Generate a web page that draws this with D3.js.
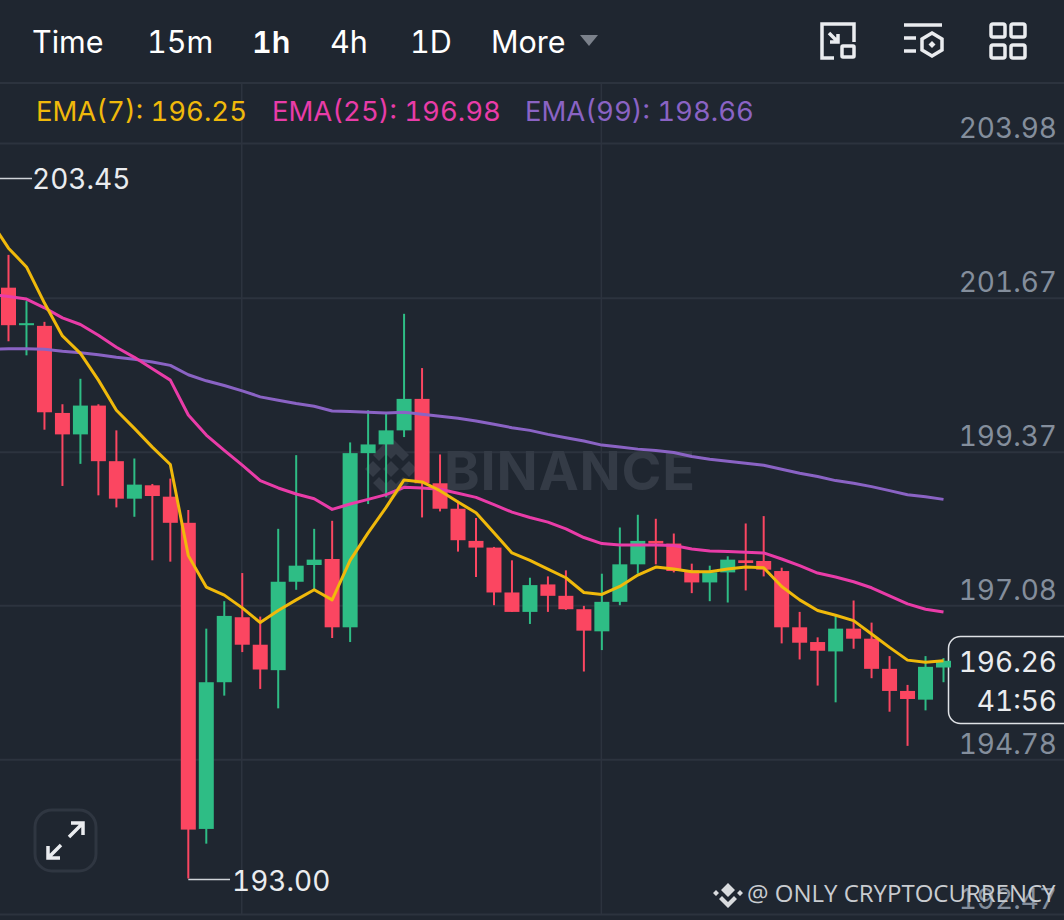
<!DOCTYPE html>
<html>
<head>
  <meta charset="utf-8">
  <script src="https://d3js.org/d3.v7.min.js"></script>
  <style>
    html, body { margin: 0; padding: 0; background: #1f2630; overflow: hidden; }
    text { font-family: Inter, "Noto Sans", sans-serif; font-variant-numeric: tabular-nums; font-feature-settings: "tnum" 1; }
  </style>
</head>
<body>
  <svg id="canvas" width="1064" height="920"></svg>
  <script>
    // candles, oldest first
    const opens = [201.82,201.26,201.25,199.95,199.63,200.06,199.23,198.67,198.87,198.70,198.31,193.74,195.93,196.90,196.49,196.11,197.43,197.68,197.77,196.75,199.35,199.48,199.69,200.16,198.90,198.52,198.04,197.94,197.27,196.98,197.39,197.22,197.02,196.69,197.13,197.69,198.04,198.00,197.60,197.42,197.57,197.75,197.74,197.59,196.75,196.53,196.39,196.73,196.58,196.13,195.80,195.67,196.15];
    const highs = [202.31,201.62,201.31,200.08,200.46,200.08,199.69,199.27,198.89,198.97,198.50,196.73,197.14,197.56,196.91,198.22,199.32,198.22,198.34,199.51,199.99,199.94,201.43,200.62,199.33,198.64,198.38,197.95,197.75,197.49,197.51,197.60,197.07,197.55,198.24,198.43,198.37,198.15,197.70,197.67,197.81,198.30,198.41,197.64,196.98,196.60,196.92,197.15,196.82,196.32,195.89,196.32,196.29];
    const lows = [201.02,200.81,199.70,198.86,199.19,198.72,198.54,198.40,197.75,197.73,193.00,193.52,195.73,196.38,195.83,195.54,197.31,197.31,196.59,196.53,198.59,198.69,199.59,198.39,198.48,197.88,197.50,197.08,196.98,196.80,196.98,197.01,196.09,196.41,197.08,197.55,197.69,197.57,197.26,197.14,197.12,197.30,197.51,196.51,196.27,195.88,195.63,196.43,195.99,195.49,194.98,195.51,195.93];
    const closes = [201.26,201.29,199.96,199.63,200.06,199.23,198.67,198.88,198.71,198.31,193.73,195.93,196.92,196.49,196.12,197.43,197.67,197.76,196.75,199.35,199.48,199.69,200.16,198.90,198.52,198.05,197.94,197.27,196.98,197.38,197.22,197.02,196.70,197.13,197.69,198.04,198.00,197.59,197.42,197.57,197.76,197.71,197.61,196.75,196.52,196.40,196.73,196.58,196.13,195.80,195.68,196.16,196.25];

    // moving averages, the first point of each sits one step off the left edge
    const ema7 = [202.82,202.41,202.13,201.59,201.10,200.84,200.44,199.99,199.72,199.44,199.18,197.82,197.35,197.23,197.04,196.82,197.00,197.16,197.31,197.16,197.75,198.16,198.54,198.95,198.92,198.79,198.62,198.46,198.16,197.86,197.75,197.62,197.49,197.27,197.24,197.36,197.53,197.65,197.62,197.58,197.58,197.62,197.65,197.64,197.36,197.16,197.00,196.93,196.85,196.65,196.45,196.26,196.23,196.25];
    const ema25 = [201.72,201.69,201.65,201.52,201.37,201.27,201.11,200.93,200.78,200.61,200.44,199.92,199.62,199.39,199.17,198.94,198.83,198.74,198.67,198.51,198.59,198.66,198.73,198.84,198.83,198.81,198.75,198.69,198.58,198.47,198.39,198.32,198.22,198.09,198.00,197.98,197.98,197.98,197.97,197.92,197.89,197.88,197.87,197.86,197.77,197.67,197.56,197.50,197.43,197.34,197.22,197.10,197.02,196.98];
    const ema99 = [200.90,200.91,200.91,200.90,200.87,200.85,200.82,200.78,200.75,200.71,200.66,200.52,200.43,200.36,200.28,200.19,200.14,200.09,200.05,199.98,199.97,199.96,199.95,199.96,199.93,199.90,199.87,199.83,199.78,199.73,199.69,199.63,199.58,199.53,199.47,199.44,199.41,199.39,199.36,199.30,199.26,199.23,199.20,199.17,199.11,199.05,199.00,198.94,198.90,198.85,198.79,198.73,198.70,198.66];

    const priceTicks = [203.98, 201.67, 199.37, 197.08, 194.78, 192.47];
    const timeGridIndex = [13, 33];
    const menuItems = ["Time", "15m", "1h", "4h", "1D", "More"];
    const menuLeft = [32, 147, 252, 330, 410, 491];
    const legend = [
      { label: "EMA(7): 196.25", color: "#f0b90b", left: 36 },
      { label: "EMA(25): 196.98", color: "#e93ca8", left: 272 },
      { label: "EMA(99): 198.66", color: "#8a63c4", left: 525 }
    ];
    const highMark = 203.45;
    const lowMark = 193.00;
    const lastPrice = "196.26";
    const countdown = "41:56";

    const bg = "#1f2630";
    const gridColor = "#2c333e";
    const up = "#2ebd85";
    const down = "#fb4661";
    const axisGray = "#848e9c";

    const svg = d3.select("#canvas");
    const width = +svg.attr("width");

    const x = d3.scaleLinear().domain([0, opens.length - 1]).range([8.5, 943.5]);
    const y = d3.scaleLinear().domain([203.98, 192.47]).range([143, 914]);

    svg.append("rect").attr("width", width).attr("height", 920).attr("fill", bg);

    // header divider
    svg.append("line").attr("x1", 0).attr("x2", width).attr("y1", 83).attr("y2", 83)
      .attr("stroke", gridColor).attr("stroke-width", 2);

    // grid
    const axis = d3.axisRight(y).tickValues(priceTicks).tickSize(-width).tickFormat(d3.format(".2f"));
    const axisG = svg.append("g").attr("transform", `translate(${width},0)`).call(axis);
    axisG.select(".domain").remove();
    axisG.selectAll(".tick line").attr("stroke", gridColor).attr("stroke-width", 2);
    axisG.selectAll(".tick text")
      .attr("x", -7).attr("dy", -6).attr("text-anchor", "end")
      .attr("fill", axisGray).attr("font-size", 28)
      .style("font-family", "Inter, 'Noto Sans', sans-serif");

    svg.selectAll(".vgrid").data(timeGridIndex).enter().append("line")
      .attr("x1", d => x(d) - 0.5).attr("x2", d => x(d) - 0.5)
      .attr("y1", 84).attr("y2", 914)
      .attr("stroke", gridColor).attr("stroke-width", 1.5);

    // watermark
    const wm = svg.append("g").attr("fill", "#343b46");
    [[391, 451], [373, 469], [391, 469], [409, 469], [391, 487]].forEach(c => {
      wm.append("path").attr("d", `M${c[0]},${c[1] - 8}l8,8l-8,8l-8,-8Z`);
    });
    wm.append("path").attr("d", "M391,437l18,18l-6,6l-12,-12l-12,12l-6,-6Z");
    wm.append("path").attr("d", "M391,501l18,-18l-6,-6l-12,12l-12,-12l-6,6Z");
    wm.append("text").attr("x", 444).attr("y", 490).text("BINANCE")
      .attr("font-size", 54).attr("font-weight", 700).attr("textLength", 251);

    // price box goes under the candles, the last one pokes into it
    svg.append("rect").attr("x", 948.5).attr("y", 636.5).attr("width", 130).attr("height", 87).attr("rx", 12)
      .attr("fill", bg).attr("stroke", "#dfe2e6").attr("stroke-width", 1.5);

    // candles
    const candles = d3.range(opens.length).map(i => ({ i, o: opens[i], h: highs[i], l: lows[i], c: closes[i] }));
    const isUp = d => d.c >= d.o;

    svg.append("g").selectAll("line").data(candles).enter().append("line")
      .attr("x1", d => x(d.i)).attr("x2", d => x(d.i))
      .attr("y1", d => y(d.h)).attr("y2", d => y(d.l))
      .attr("stroke", d => isUp(d) ? up : down).attr("stroke-width", 2);

    svg.append("g").selectAll("rect").data(candles).enter().append("rect")
      .attr("x", d => x(d.i) - 7.5).attr("width", 15)
      .attr("y", d => y(Math.max(d.o, d.c)))
      .attr("height", d => Math.max(2, Math.abs(y(d.o) - y(d.c))))
      .attr("fill", d => isUp(d) ? up : down);

    // ema lines
    const line = d3.line().x((d, i) => x(i - 1)).y(d => y(d));
    [[ema99, "#8a63c4"], [ema25, "#e93ca8"], [ema7, "#f0b90b"]].forEach(s => {
      svg.append("path").attr("d", line(s[0])).attr("fill", "none")
        .attr("stroke", s[1]).attr("stroke-width", 3).attr("stroke-linejoin", "round");
    });

    // high and low markers
    svg.append("line").attr("x1", 0).attr("x2", 32).attr("y1", y(highMark)).attr("y2", y(highMark))
      .attr("stroke", "#cfd3d8").attr("stroke-width", 1.5);
    svg.append("text").attr("x", 32).attr("y", y(highMark) + 10.5).text(highMark.toFixed(2))
      .attr("fill", "#eaecef").attr("font-size", 28);
    svg.append("line").attr("x1", x(10)).attr("x2", 230).attr("y1", y(lowMark) + 1).attr("y2", y(lowMark) + 1)
      .attr("stroke", "#cfd3d8").attr("stroke-width", 1.5);
    svg.append("text").attr("x", 232).attr("y", y(lowMark) + 13).text(lowMark.toFixed(2))
      .attr("fill", "#eaecef").attr("font-size", 28);

    // last price
    svg.append("text").attr("x", 1057).attr("y", 672).attr("text-anchor", "end").text(lastPrice)
      .attr("fill", "#eaecef").attr("font-size", 28);
    svg.append("text").attr("x", 1057).attr("y", 711).attr("text-anchor", "end").text(countdown)
      .attr("fill", "#eaecef").attr("font-size", 28);

    // menu
    svg.selectAll(".menu").data(menuItems).enter().append("text")
      .attr("x", (d, i) => menuLeft[i]).attr("y", 53).text(d => d)
      .attr("fill", "#ffffff").attr("font-size", 30.5)
      .attr("font-weight", d => d === "1h" ? 600 : 400);
    svg.append("path").attr("d", "M580,35h18l-9,11Z").attr("fill", "#7b818b");

    // toolbar icons
    const icons = svg.append("g").attr("fill", "none").attr("stroke", "#eaecef").attr("stroke-width", 3.5);
    icons.append("path").attr("d", "M834,58H822V24H854V42");
    icons.append("path").attr("d", "M829,33L838,42M838,34V42H830");
    icons.append("rect").attr("x", 842).attr("y", 46).attr("width", 12).attr("height", 11).attr("rx", 1);
    icons.append("path").attr("d", "M904,25H942M904,38H916M904,51H916");
    icons.append("path").attr("d", "M932,33L942,39V50L932,56L922,50V39Z");
    icons.append("path").attr("d", "M932,41l3.5,3.5l-3.5,3.5l-3.5,-3.5Z").attr("fill", "#eaecef").attr("stroke", "none");
    [[991, 24], [1011, 24], [991, 45], [1011, 45]].forEach(p => {
      icons.append("rect").attr("x", p[0]).attr("y", p[1]).attr("width", 14).attr("height", 13).attr("rx", 2);
    });

    // ema legend
    svg.selectAll(".legend").data(legend).enter().append("text")
      .attr("x", d => d.left).attr("y", 121).text(d => d.label)
      .attr("fill", d => d.color).attr("font-size", 27.5);

    // expand button
    svg.append("rect").attr("x", 35).attr("y", 810).attr("width", 61).attr("height", 61).attr("rx", 17)
      .attr("fill", bg).attr("stroke", "#2f3641").attr("stroke-width", 3);
    const arrows = svg.append("g").attr("fill", "none").attr("stroke", "#eaecef").attr("stroke-width", 3.5);
    arrows.append("path").attr("d", "M69,837L82,824M71,823H83V835");
    arrows.append("path").attr("d", "M61,845L48,858M48,846V858H60");

    // reposter credit sits on top of the last axis label
    const credit = svg.append("g");
    credit.append("path").attr("d", "M728,883l7,7l-7,7l-7,-7ZM728,902l-6,-6l-3,3l9,9l9,-9l-3,-3ZM716,890l3,3l-3,3l-3,-3ZM740,890l3,3l-3,3l-3,-3ZM728,890l3,3l-3,3l-3,-3Z")
      .attr("fill", "#d9dbde");
    credit.append("text").attr("x", 747).attr("y", 902).text("@ ONLY CRYPTOCURRENCY")
      .attr("fill", "#c9ccd0").attr("font-size", 24).style("font-family", "'Open Sans', sans-serif");
  </script>
</body>
</html>
